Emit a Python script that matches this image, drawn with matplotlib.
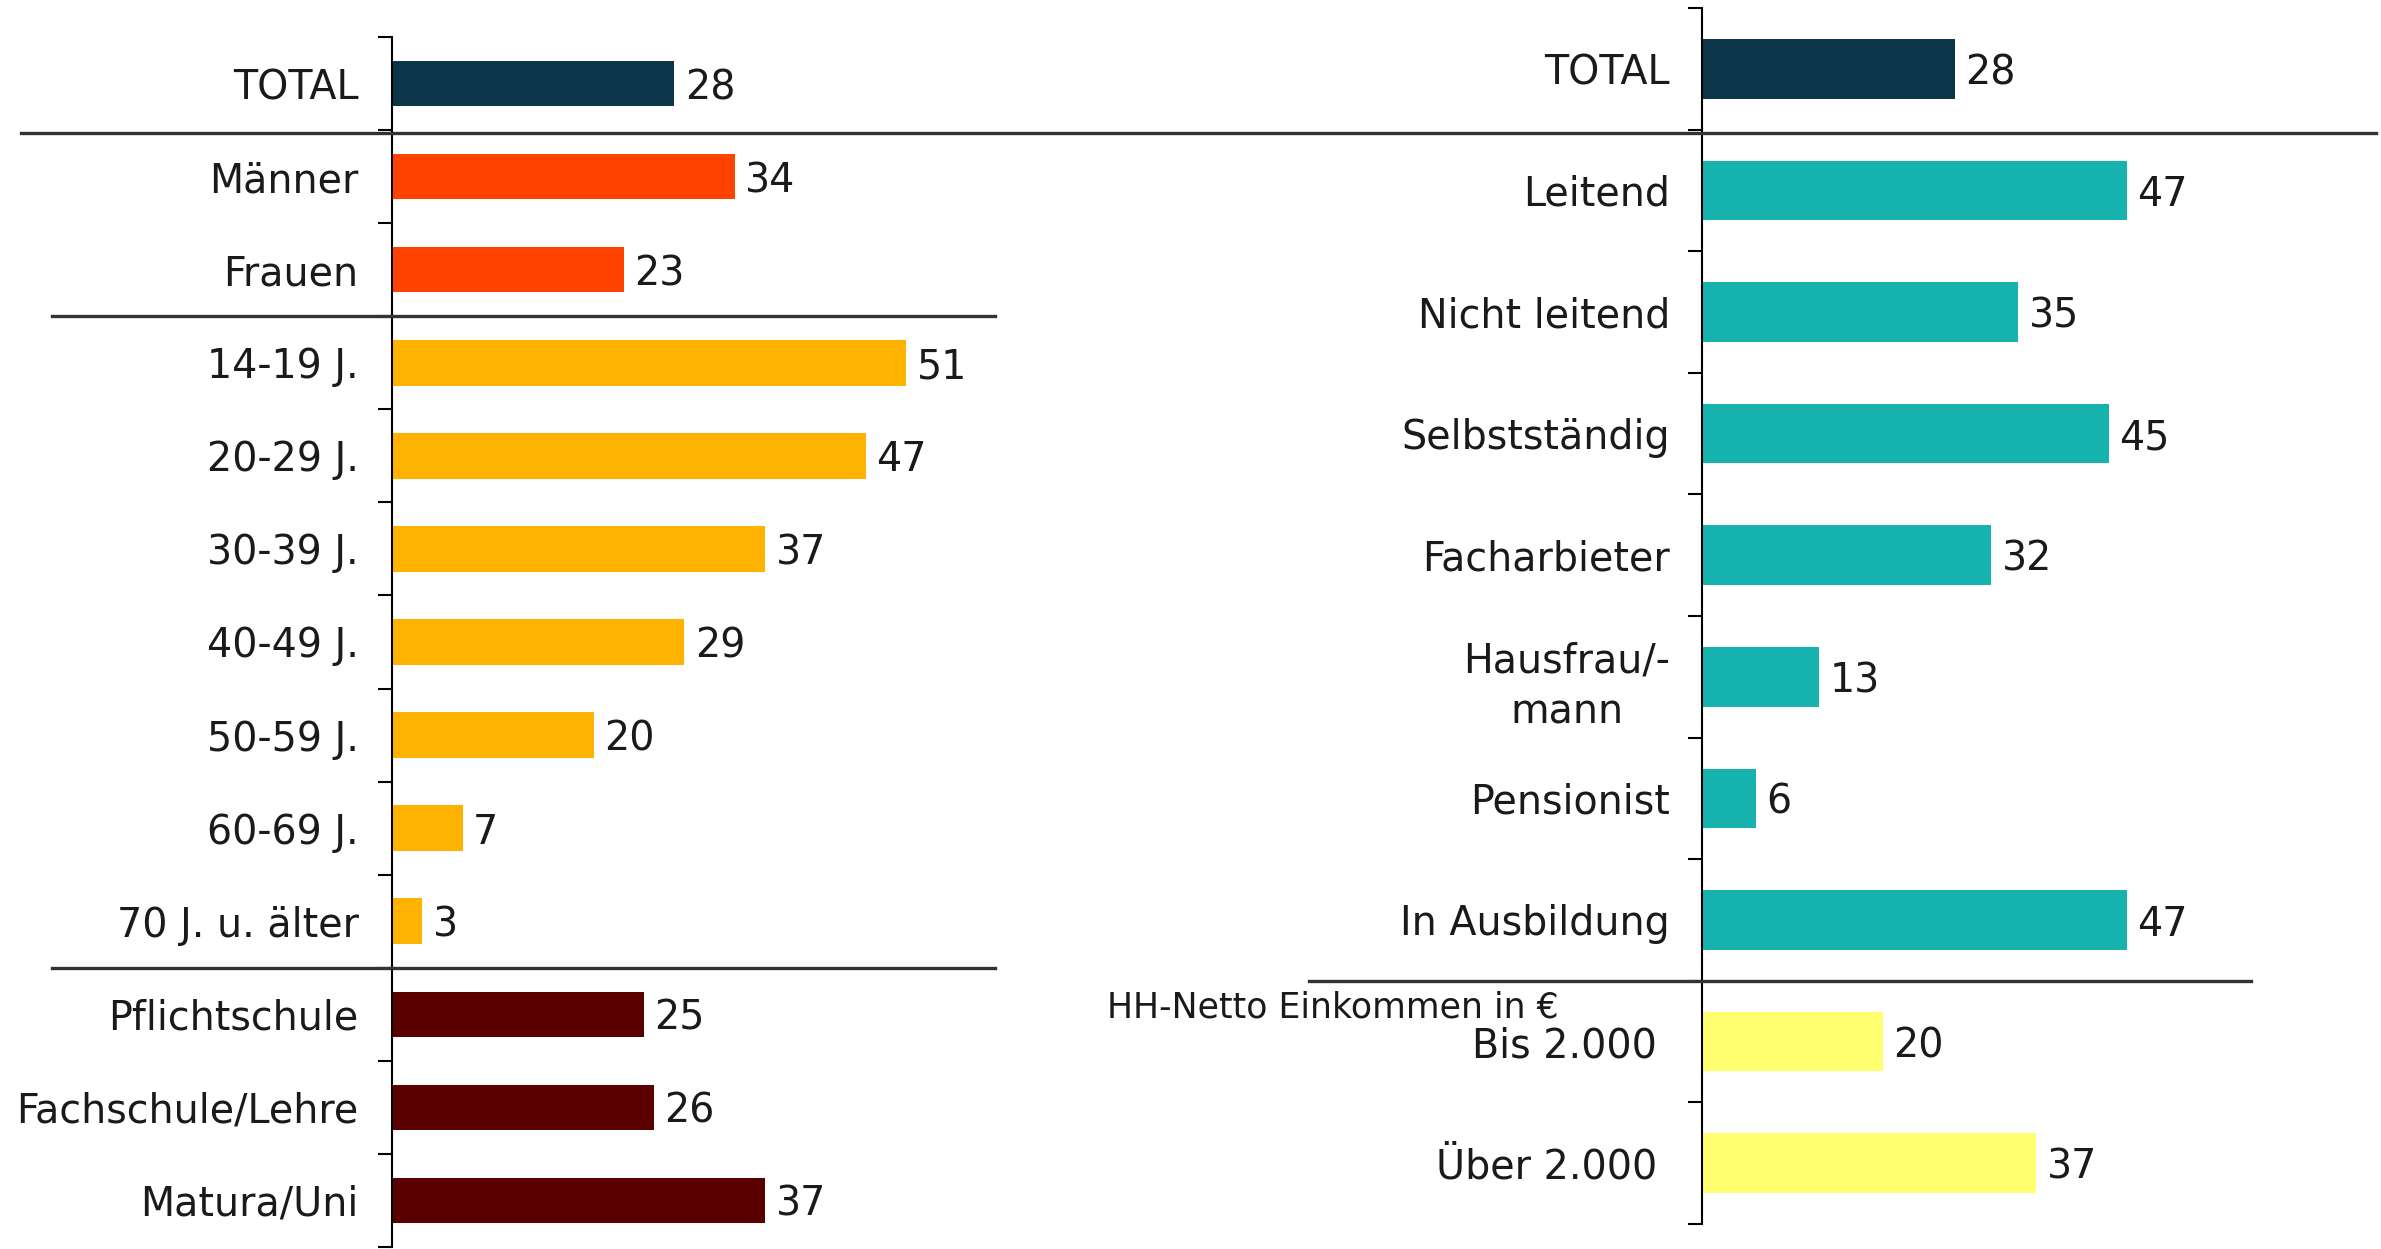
import matplotlib.pyplot as plt
import matplotlib.transforms as mtransforms
from matplotlib.lines import Line2D

W, H = 2381, 1249

left_labels = ["TOTAL", "Männer", "Frauen", "14-19 J.", "20-29 J.", "30-39 J.",
               "40-49 J.", "50-59 J.", "60-69 J.", "70 J. u. älter",
               "Pflichtschule", "Fachschule/Lehre", "Matura/Uni"]
left_values = [28, 34, 23, 51, 47, 37, 29, 20, 7, 3, 25, 26, 37]

right_labels = ["TOTAL", "Leitend", "Nicht leitend", "Selbstständig", "Facharbieter",
                "Hausfrau/-\nmann", "Pensionist", "In Ausbildung", "Bis 2.000", "Über 2.000"]
right_values = [28, 47, 35, 45, 32, 13, 6, 47, 20, 37]

income_title = "HH-Netto Einkommen in €"

# colours per bar
c_total = "#0b3548"
c_sex = "#ff4200"
c_age = "#ffb300"
c_edu = "#5a0000"
c_job = "#17b3ae"
c_inc = "#ffff70"
left_colors = [c_total] + [c_sex] * 2 + [c_age] * 7 + [c_edu] * 3
right_colors = [c_total] + [c_job] * 7 + [c_inc] * 2

plt.rcParams['font.family'] = ['DejaVu Sans']
FS = 28.5
TXT = "#1a1a1a"

fig = plt.figure(figsize=(W / 100, H / 100), dpi=100)


def px_axes(x0, y_top, w, y_bot):
    return fig.add_axes([x0 / W, 1 - y_bot / H, w / W, (y_bot - y_top) / H])


def hline_px(x0, x1, y):
    fig.add_artist(Line2D([x0 / W, x1 / W], [1 - y / H, 1 - y / H],
                          transform=fig.transFigure, color="#333333", lw=2.4))


def draw_panel(ax, labels, values, colors, pad):
    n = len(values)
    pos = list(range(n))
    ax.barh(pos, values, height=0.49, color=colors, edgecolor="none")
    for p, v in zip(pos, values):
        ax.annotate(str(v), (v, p), xytext=(7.5, 0), textcoords="offset points",
                    va="center_baseline", ha="left", fontsize=FS, color=TXT)
    ax.set_xlim(0, 60)
    ax.set_ylim(n - 0.5, -0.5)
    for s in ["top", "right", "bottom"]:
        ax.spines[s].set_visible(False)
    ax.spines["left"].set_linewidth(1.5)
    ax.set_xticks([])
    ax.set_yticks(pos)
    ax.set_yticklabels(labels, fontsize=FS, color=TXT)
    ax.set_yticks([p - 0.5 for p in pos] + [n - 0.5], minor=True)
    ax.tick_params(axis="y", which="major", length=0, pad=pad)
    ax.tick_params(axis="y", which="minor", length=10, width=1.5, direction="out")
    for lab in ax.get_yticklabels():
        lab.set_multialignment("center")
        lab.set_linespacing(1.35)
    ax.patch.set_alpha(0)


ax_l = px_axes(392, 37, 605, 1247)
draw_panel(ax_l, left_labels, left_values, left_colors, 24)

ax_r = px_axes(1702, 8, 542, 1224)
draw_panel(ax_r, right_labels, right_values, right_colors, 23)
shift = mtransforms.ScaledTranslation(-0.13, 0, fig.dpi_scale_trans)
for lab in ax_r.get_yticklabels()[-2:]:
    lab.set_transform(lab.get_transform() + shift)

hline_px(21, 2376, 133)
hline_px(52, 995, 316)
hline_px(52, 995, 968)
hline_px(1309, 2251, 981)

fig.text(1107 / W, 1 - 1008 / H, income_title, ha="left", va="center",
         fontsize=25, color=TXT)

fig.savefig("out.png", dpi=100, facecolor="white")
